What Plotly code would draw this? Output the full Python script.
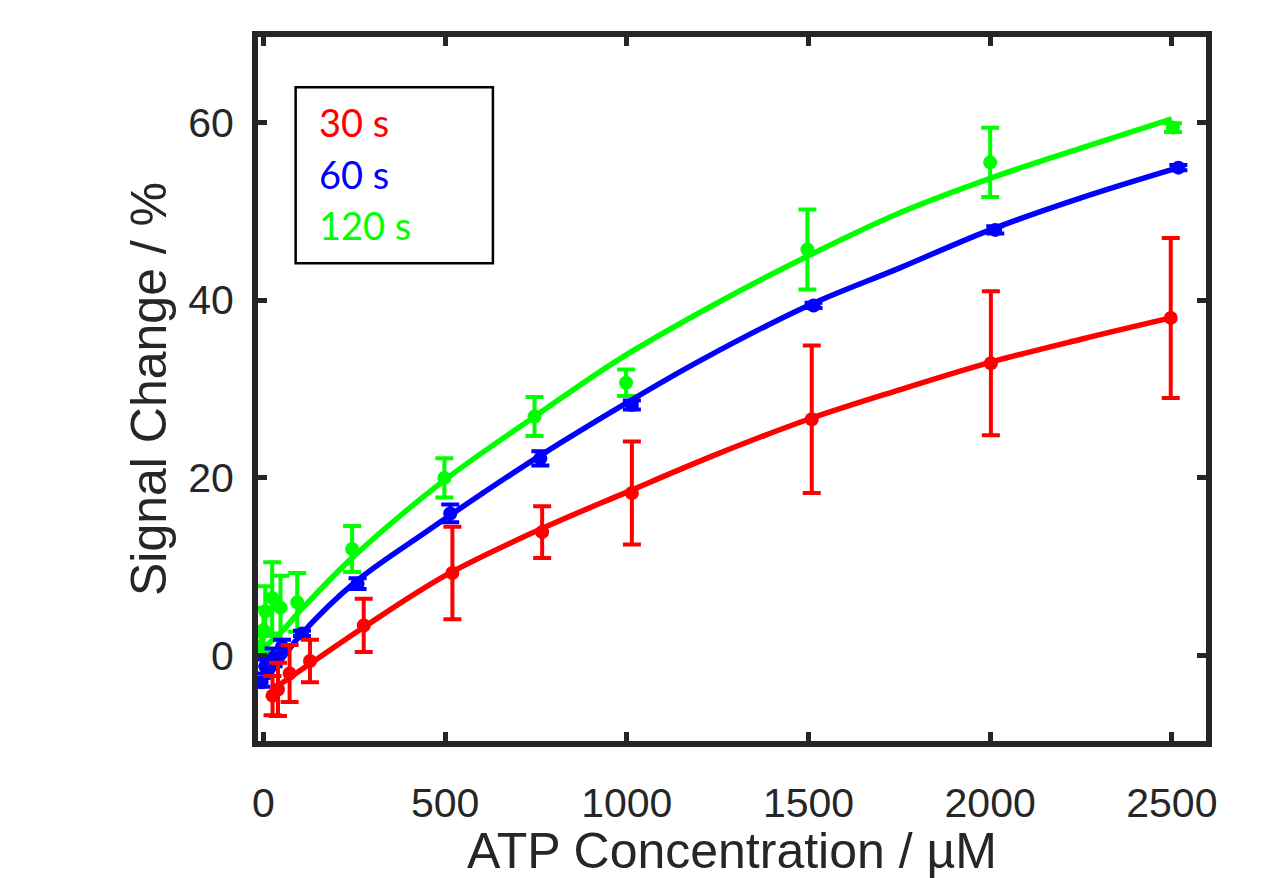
import plotly.graph_objects as go

# ---- data ----
x_red = [25, 40, 72, 128, 276, 520, 767, 1014, 1509, 2002, 2497]
y_red = [-4.5, -3.8, -2.0, -0.6, 3.4, 9.3, 13.9, 18.3, 26.6, 32.9, 38.0]
e_red = [2.2, 3.0, 3.2, 2.4, 3.0, 5.2, 2.9, 5.8, 8.3, 8.1, 9.0]

x_blue = [-5, 5, 28, 51, 106, 259, 514, 762, 1014, 1514, 2014, 2518]
y_blue = [-3.0, -1.2, -0.2, 1.0, 2.5, 8.1, 16.0, 22.2, 28.2, 39.4, 47.9, 54.9]
e_blue = [0.5, 0.8, 1.0, 0.8, 0.3, 0.6, 1.0, 0.8, 0.5, 0.3, 0.4, 0.3]

x_green = [-8, 0, 5, 24, 47, 93, 244, 498, 746, 998, 1497, 2000, 2503]
y_green = [1.0, 2.9, 5.0, 6.5, 5.4, 6.0, 12.0, 20.0, 26.9, 30.7, 45.7, 55.5, 59.4]
e_green = [1.5, 2.5, 2.8, 4.0, 3.6, 3.3, 2.6, 2.2, 2.2, 1.5, 4.5, 3.9, 0.5]

fit_red_x = [25, 125, 276, 500, 750, 1000, 1250, 1500, 1750, 2000, 2250, 2497]
fit_red_y = [-3.8, -1.0, 3.2, 9.0, 14.0, 18.4, 22.7, 26.6, 29.9, 33.0, 35.6, 38.0]

fit_blue_x = [-5, 50, 106, 250, 450, 597, 757, 1010, 1202, 1500, 1750, 2000, 2250, 2518]
fit_blue_y = [-3.2, -0.4, 2.5, 8.2, 14.0, 18.1, 22.4, 28.7, 33.2, 39.4, 43.6, 47.9, 51.5, 54.9]

fit_green_x = [-10, 50, 100, 244, 500, 750, 973, 1250, 1500, 1750, 2000, 2250, 2500]
fit_green_y = [0.5, 2.7, 5.0, 11.0, 19.8, 27.0, 33.2, 39.7, 45.0, 49.8, 53.7, 57.1, 60.4]

series_names = ["30 s", "60 s", "120 s"]
colors = ["#FF0000", "#0000FF", "#00FF00"]

x_ticks = [0, 500, 1000, 1500, 2000, 2500]
y_ticks = [0, 20, 40, 60]

x_title = "ATP Concentration / µM"
y_title = "Signal Change / %"

AX = "#262626"
FONT = "Liberation Sans, Arial, sans-serif"

fig = go.Figure()

data = [
    (x_green, y_green, e_green, fit_green_x, fit_green_y, colors[2], series_names[2]),
    (x_blue, y_blue, e_blue, fit_blue_x, fit_blue_y, colors[1], series_names[1]),
    (x_red, y_red, e_red, fit_red_x, fit_red_y, colors[0], series_names[0]),
]

for xs, ys, es, fx, fy, c, name in data:
    fig.add_trace(go.Scatter(
        x=fx, y=fy, mode="lines", line=dict(color=c, width=5.5, shape="spline"),
        showlegend=False, hoverinfo="skip", name=name + " fit"))
    fig.add_trace(go.Scatter(
        x=xs, y=ys, mode="markers", name=name, showlegend=False,
        marker=dict(color=c, size=14),
        error_y=dict(type="data", array=es, visible=True, color=c,
                     thickness=4, width=9)))

# legend box (drawn as text + rectangle, no symbols)
fig.add_shape(type="rect", xref="x", yref="y", x0=88.6, x1=631.5, y0=44.16, y1=63.95,
              line=dict(color="black", width=2.5), fillcolor="white", layer="above")
leg_y = [60.0, 54.2, 48.4]
for name, c, yy in zip(series_names, colors, leg_y):
    fig.add_annotation(x=146, y=yy, xref="x", yref="y", text=name, showarrow=False,
                       xanchor="left", yanchor="middle",
                       font=dict(family="Lato, Open Sans, sans-serif", size=38, color=c))

# x-axis title placed explicitly near the bottom edge
fig.add_annotation(x=0.5, y=-0.156, xref="paper", yref="paper", text=x_title,
                   showarrow=False, xanchor="center", yanchor="middle",
                   font=dict(family=FONT, size=50, color=AX))

axis_common = dict(
    showline=True, linewidth=6, linecolor=AX, mirror="ticks",
    ticks="inside", ticklen=9, tickwidth=5, tickcolor=AX,
    showgrid=False, zeroline=False,
    tickfont=dict(family=FONT, size=41, color=AX),
    title_font=dict(family=FONT, size=50, color=AX),
)

fig.update_xaxes(range=[-15, 2594], tickvals=x_ticks,
                 ticklabelstandoff=21, **axis_common)
fig.update_yaxes(range=[-9.6, 69.6], tickvals=y_ticks,
                 title=dict(text=y_title, standoff=8),
                 ticklabelstandoff=10, **axis_common)

fig.update_layout(
    width=1261, height=878,
    margin=dict(l=258, r=55, t=37, b=137, autoexpand=False),
    plot_bgcolor="white", paper_bgcolor="white",
    showlegend=False,
)

fig.write_html("out.html")
